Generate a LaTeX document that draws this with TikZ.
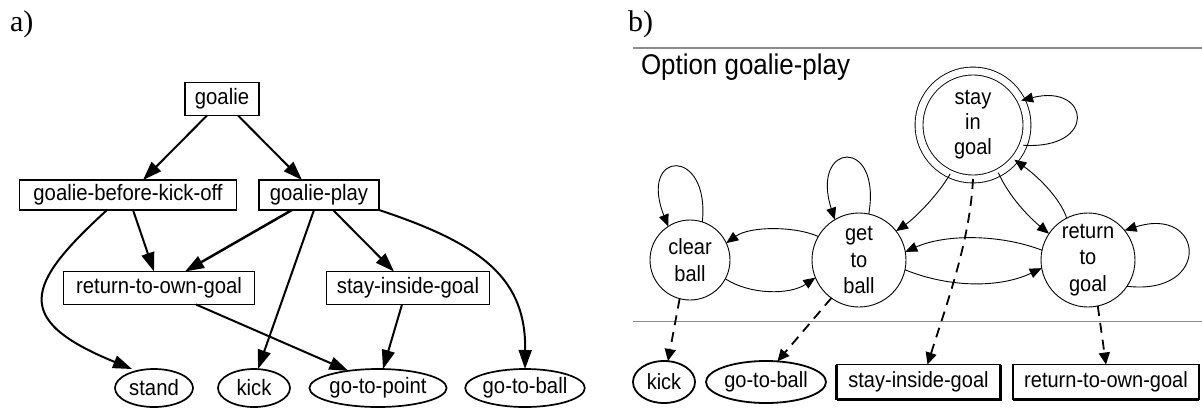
\documentclass[tikz,border=0pt]{standalone}
\usepackage{fontspec}
\setmainfont{Liberation Sans}[FakeStretch=0.91]
\newfontfamily\labelserif{Liberation Serif}
\usetikzlibrary{arrows.meta,shapes.geometric}

\begin{document}
\begin{tikzpicture}[x=1pt,y=-1pt,
  every node/.style={inner sep=0pt,outer sep=0pt},
  partlabel/.style={font=\labelserif\fontsize{30}{32}\selectfont,anchor=base west},
  abox/.style={draw,line width=1.6pt,font=\fontsize{22.3}{25}\selectfont},
  aell/.style={ellipse,draw,line width=1.7pt,minimum height=38pt,font=\fontsize{22.3}{25}\selectfont},
  aedge/.style={-{Triangle[length=19pt,width=13pt]},line width=2pt},
  state/.style={circle,draw,line width=0.9pt,align=center,
    font=\fontsize{22}{26.5}\selectfont},
  tedge/.style={-{Triangle[length=12pt,width=10pt]},line width=0.9pt},
  dedge/.style={-{Triangle[length=12pt,width=11pt]},line width=1.8pt,
    dash pattern=on 10pt off 7pt},
  bell/.style={ellipse,draw,line width=1.8pt,minimum height=42pt,
    font=\fontsize{22}{24}\selectfont},
  bbox/.style={draw,line width=1.2pt,font=\fontsize{22}{24}\selectfont},
  shadowline/.style={line width=3pt},
  rule/.style={draw=black!45}
]
\useasboundingbox (0,0) rectangle (1202,408);

% ---------- a) option hierarchy ----------
\node[partlabel] (la) at (10,31) {a)};

\node[abox,minimum width=74pt,minimum height=33pt]  (goalie) at (222,99)  {goalie};
\node[abox,minimum width=217pt,minimum height=30pt] (gbko)   at (128,195) {goalie-before-kick-off};
\node[abox,minimum width=120pt,minimum height=30pt] (gp)     at (319,195) {goalie-play};
\node[abox,minimum width=191pt,minimum height=33pt] (rtog)   at (159,288) {return-to-own-goal};
\node[abox,minimum width=163pt,minimum height=33pt] (sig)    at (408,288) {stay-inside-goal};

\node[aell,minimum width=78pt]  (stand) at (154,388) {stand};
\node[aell,minimum width=72pt]  (kick)  at (254,388) {kick};
\node[aell,minimum width=132pt] (gtp)   at (378,388) {go-to-point};
\node[aell,minimum width=116pt] (gtb)   at (525,388) {go-to-ball};

\draw[aedge] ([xshift=-15pt]goalie.south) -- ([xshift=15pt]gbko.north);
\draw[aedge] ([xshift=16pt]goalie.south)  -- ([xshift=-17pt]gp.north);
\draw[aedge] ([xshift=5pt]gbko.south)     -- ([xshift=-5pt]rtog.north);
\draw[aedge] ([xshift=-21pt]gbko.south) .. controls (25,285) and (12,320) .. ([xshift=-22pt]stand.north);
\draw[aedge,line width=2.5pt] ([xshift=-27pt]gp.south) -- ([xshift=26pt]rtog.north);
\draw[aedge] ([xshift=-5pt]gp.south)  -- ([xshift=4pt]kick.north);
\draw[aedge] ([xshift=14pt]gp.south)  -- ([xshift=-14pt]sig.north);
\draw[aedge] (gp.south east) .. controls (485,245) and (526,280) .. (gtb.north);
\draw[aedge] ([xshift=37pt]rtog.south) -- (gtp.150);
\draw[aedge] ([xshift=-6pt]sig.south) -- ([xshift=5pt]gtp.north);

% ---------- b) state machine of goalie-play ----------
\node[partlabel] (lb) at (628,31) {b)};
\coordinate (rt1) at (633,48);
\coordinate (rt2) at (1202,48);
\draw[rule,line width=2pt] (rt1) -- (rt2);
\node[anchor=base west,font=\fontsize{28.5}{30}\selectfont] (title) at (641,74) {Option goalie-play};

\node[state,minimum size=80pt] (cb) at (690,260) {clear\\ball};
\node[state,minimum size=94pt] (gb) at (859,260) {get\\to\\ball};
\node[state,minimum size=94pt] (rg) at (1088,260) {return\\to\\goal};
\node[state,minimum size=108pt,double,double distance=7pt,
      font=\fontsize{22}{25}\selectfont] (sg) at (973,125) {stay\\in\\goal};

\coordinate (rm1) at (633,321);
\coordinate (rm2) at (1202,321);
\draw[rule,line width=1pt] (rm1) -- (rm2);

\node[bell,minimum width=62pt]  (kick2) at (664,382) {kick};
\node[bell,minimum width=120pt] (gtb2)  at (766,382) {go-to-ball};
\node[bbox,minimum width=164pt,minimum height=35pt] (sig2)  at (918.5,382) {stay-inside-goal};
\node[bbox,minimum width=186pt,minimum height=35pt] (rtog2) at (1106,382) {return-to-own-goal};
\draw[shadowline] (sig2.south west) -- (sig2.south east) -- (sig2.north east);
\draw[line width=2.2pt] (sig2.south west) -- (sig2.north west);
\draw[shadowline] (rtog2.south west) -- (rtog2.south east);
\draw[line width=2pt] (rtog2.south west) -- (rtog2.north west);

% self loops
\draw[tedge] (cb.72)  .. controls (710,146) and (638,150) .. (cb.123);
\draw[tedge] (gb.78)  .. controls (882,136) and (810,142) .. (gb.121);
\draw[tedge] (sg.-22) .. controls (1098,150) and (1090,83) .. (sg.27);
\draw[tedge] (rg.-34) .. controls (1212,296) and (1205,205) .. (rg.39);

% transitions
\draw[tedge] (gb.150) .. controls (795,226) and (750,226) .. (cb.25);
\draw[tedge] (cb.-28) .. controls (750,295) and (790,295) .. (gb.-158);
\draw[tedge] (rg.168) .. controls (1000,234) and (945,234) .. (gb.10);
\draw[tedge] (gb.-12) .. controls (950,288) and (1000,288) .. (rg.190);
\draw[tedge] (sg.-115) .. controls (938,195) and (915,218) .. (gb.38);
\draw[tedge] (sg.-62) .. controls (1009,197) and (1030,218) .. (rg.146);
\draw[tedge] (rg.117) .. controls (1061,200) and (1040,178) .. (sg.-40);

% sub-options
\draw[dedge] (cb.-105) -- ([xshift=4pt]kick2.north);
\draw[dedge] (gb.-126) -- (gtb2.61);
\draw[dedge] (sg.-90) .. controls (970,240) and (948,300) .. ([xshift=9pt]sig2.north);
\draw[dedge] (rg.-78) -- (rtog2.north);
\end{tikzpicture}
\end{document}
